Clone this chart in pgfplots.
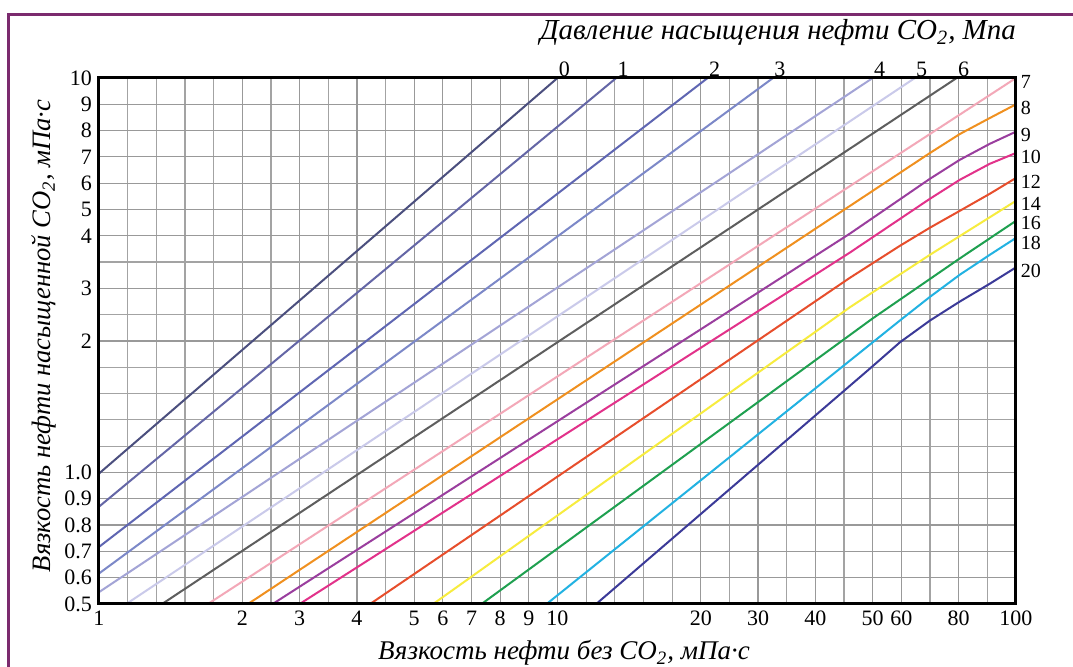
\documentclass[border=0pt]{standalone}
\usepackage{fontspec}
\setmainfont{Liberation Serif}
\usepackage{pgfplots}
\pgfplotsset{compat=1.18}
\definecolor{framec}{HTML}{7B2A6E}
\definecolor{p0}{HTML}{4B4F7E}
\definecolor{p1}{HTML}{6466A6}
\definecolor{p2}{HTML}{5F66B2}
\definecolor{p3}{HTML}{7C88C8}
\definecolor{p4}{HTML}{A3A4D6}
\definecolor{p5}{HTML}{CACAEA}
\definecolor{p6}{HTML}{5E5E5E}
\definecolor{p7}{HTML}{F3A8B8}
\definecolor{p8}{HTML}{F0901F}
\definecolor{p9}{HTML}{9A3E9E}
\definecolor{p10}{HTML}{E2328A}
\definecolor{p12}{HTML}{E74E2C}
\definecolor{p14}{HTML}{F7EC3E}
\definecolor{p16}{HTML}{1FA050}
\definecolor{p18}{HTML}{22B2E2}
\definecolor{p20}{HTML}{3B3A98}
\begin{document}
\begin{tikzpicture}
\useasboundingbox (0,0) rectangle (536.5pt,-333.5pt);
\fill[white] (0,0) rectangle (536.5pt,-333.5pt);
\draw[framec, line width=1.5pt] (4pt,-333.5pt) -- (4pt,-7.5pt) -- (536.5pt,-7.5pt);
\begin{axis}[
  at={(49.5pt,-302pt)}, anchor=south west,
  scale only axis, width=458.5pt, height=263pt,
  x coord trafo/.code={\pgfmathparse{(#1<=2)?((#1-1)*5):((#1<=5)?(5+(#1-2)*2):((#1<=10)?(11+#1-5):((#1<=20)?(16+(#1-10)/2):((#1<=50)?(21+(#1-20)/5):(27+(#1-50)/10)))))}},
  y coord trafo/.code={\pgfmathparse{(#1<=1)?((#1-0.5)*10):((#1<=2)?(5+(#1-1)*5):((#1<=4)?(10+(#1-2)*2):(14+#1-4)))}},
  xmin=1, xmax=100, ymin=0.5, ymax=10,
  xtick={1,2,3,4,5,6,7,8,9,10,20,30,40,50,60,80,100},
  xticklabels={1,2,3,4,5,6,7,8,9,10,20,30,40,50,60,80,100},
  minor xtick={1.2,1.4,1.6,1.8,2.5,3.5,4.5,12,14,16,18,25,35,45,70,90},
  ytick={0.5,0.6,0.7,0.8,0.9,1,2,3,4,5,6,7,8,9,10},
  yticklabels={0.5,0.6,0.7,0.8,0.9,1.0,2,3,4,5,6,7,8,9,10},
  minor ytick={1.2,1.4,1.6,1.8,2.5,3.5},
  grid=both,
  major grid style={black!40, line width=0.6pt},
  minor grid style={black!36, line width=0.6pt},
  major tick length=0pt, minor tick length=0pt,
  axis line style={line width=1.5pt},
  tick label style={font=\fontsize{11}{12}\selectfont},
  /pgf/number format/assume math mode=true,
  clip=false,
  every axis plot/.append style={line width=1pt, line join=round},
]
\addplot[p0] coordinates {(1,0.996) (10,10)};
\addplot[p1] coordinates {(1,0.87) (14.1,10)};
\addplot[p2] coordinates {(1,0.717) (21.2,10)};
\addplot[p3] coordinates {(1,0.616) (32.6,10)};
\addplot[p4] coordinates {(1,0.545) (50,10)};
\addplot[p5] coordinates {(1.19,0.5) (64.7,10)};
\addplot[p6] coordinates {(1.44,0.5) (79.3,10)};
\addplot[p7] coordinates {(1.76,0.5) (100,10)};
\addplot[p8] coordinates {(2.10,0.5) (70,7.15) (80.4,7.87) (90.9,8.48) (100,9.0)};
\addplot[p9] coordinates {(2.53,0.5) (46,4.08) (70,6.17) (80.4,6.89) (90.9,7.5) (100,7.96)};
\addplot[p10] coordinates {(3.0,0.5) (46,3.68) (70,5.41) (80.4,6.13) (90.9,6.74) (100,7.15)};
\addplot[p12] coordinates {(4.23,0.5) (46,3.2) (59.5,3.81) (70,4.31) (80.4,4.95) (90.9,5.6) (100,6.2)};
\addplot[p14] coordinates {(5.66,0.5) (46,2.64) (70,3.64) (100,5.33)};
\addplot[p16] coordinates {(7.35,0.5) (50,2.43) (80.4,3.57) (100,4.57)};
\addplot[p18] coordinates {(9.62,0.5) (59.5,2.39) (70,2.84) (80.4,3.26) (90.9,3.64) (100,3.96)};
\addplot[p20] coordinates {(12.7,0.5) (49.5,1.79) (59.5,1.99) (70,2.39) (80.4,2.75) (90.9,3.09) (100,3.4)};
\draw[black, line width=1.5pt] (rel axis cs:0,0) rectangle (rel axis cs:1,1);
\begin{scope}[every node/.style={font=\fontsize{11}{12}\selectfont, inner sep=0.5pt}]
\node[anchor=south west] at (axis cs:10,10) {0};
\node[anchor=south west] at (axis cs:14.1,10) {1};
\node[anchor=south west] at (axis cs:21.2,10) {2};
\node[anchor=south west] at (axis cs:32.6,10) {3};
\node[anchor=south west] at (axis cs:50,10) {4};
\node[anchor=south west] at (axis cs:64.7,10) {5};
\node[anchor=south west] at (axis cs:79.3,10) {6};
\end{scope}
\begin{scope}[every node/.style={font=\fontsize{10}{11}\selectfont, inner sep=0.3pt, anchor=west, xshift=2pt}]
\node[yshift=-2pt] at (axis cs:100,10) {7};
\node[yshift=-2pt] at (axis cs:100,9.0) {8};
\node[yshift=-2pt] at (axis cs:100,8.0) {9};
\node[yshift=-2pt] at (axis cs:100,7.15) {10};
\node[yshift=-2pt] at (axis cs:100,6.2) {12};
\node[yshift=-1.5pt] at (axis cs:100,5.33) {14};
\node[yshift=-1pt] at (axis cs:100,4.57) {16};
\node[yshift=-2.6pt] at (axis cs:100,3.96) {18};
\node[yshift=-2pt] at (axis cs:100,3.4) {20};
\end{scope}
\end{axis}
\node[font=\fontsize{14.5}{16}\selectfont\itshape] at (389pt,-16.5pt) {Давление насыщения нефти CO\textsubscript{2}, Мпа};
\node[font=\fontsize{13.5}{15}\selectfont\itshape] at (282pt,-326.5pt) {Вязкость нефти без CO\textsubscript{2}, мПа·с};
\node[font=\fontsize{13.3}{15}\selectfont\itshape, rotate=90] at (22pt,-168pt) {Вязкость нефти насыщенной CO\textsubscript{2}, мПа·с};
\end{tikzpicture}
\end{document}
